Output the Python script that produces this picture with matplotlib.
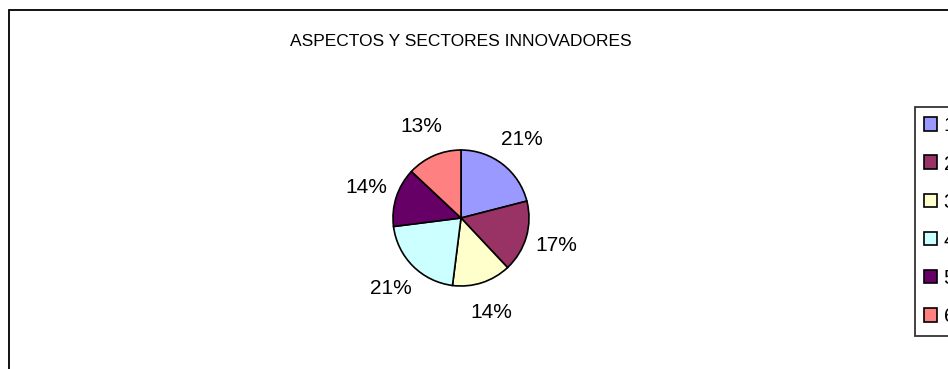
import matplotlib
matplotlib.use('Agg')
import matplotlib.pyplot as plt
from matplotlib.patches import Rectangle

plt.rcParams['font.family'] = ['Liberation Sans', 'DejaVu Sans']

# data
title = 'ASPECTOS Y SECTORES INNOVADORES'
labels = ['1', '2', '3', '4', '5', '6']
values = [21, 17, 14, 21, 14, 13]
colors = ['#9999FF', '#993366', '#FFFFCC', '#CCFFFF', '#660066', '#FF8080']

W, H = 948, 369
fig = plt.figure(figsize=(W / 100, H / 100), dpi=100)
fig.patch.set_facecolor('white')

# outer chart frame (cut off at right and bottom)
fig.patches.append(Rectangle((9 / W, -0.5), 2.0, 0.5 + 1 - 10 / H,
                             transform=fig.transFigure, fill=False,
                             edgecolor='black', linewidth=1.3))

fig.text(461 / W, 1 - 42 / H, title, ha='center', va='center', fontsize=12.5)

# pie
cx, cy, r = 461, 218, 68
ax = fig.add_axes([(cx - r) / W, (H - cy - r) / H, 2 * r / W, 2 * r / H])
wedges, texts, autotexts = ax.pie(values, colors=colors, startangle=90, counterclock=False,
                                  autopct='%1.0f%%', pctdistance=1.46,
                                  wedgeprops=dict(edgecolor='black', linewidth=1.2),
                                  textprops=dict(fontsize=15))
ax.set_aspect('equal')
ax.set_xlim(-1, 1)
ax.set_ylim(-1, 1)

# legend sits at the right edge, partly cut off as in the original
leg = fig.legend(wedges, labels, loc='upper left', bbox_to_anchor=(915 / W, 1 - 107 / H),
                 fontsize=15, frameon=True, fancybox=False, shadow=False,
                 edgecolor='black', borderpad=0.45, labelspacing=0.92,
                 handlelength=0.62, handleheight=0.62, handletextpad=0.3,
                 borderaxespad=0)
leg.get_frame().set_linewidth(1.3)

fig.savefig('out.png', dpi=100)
